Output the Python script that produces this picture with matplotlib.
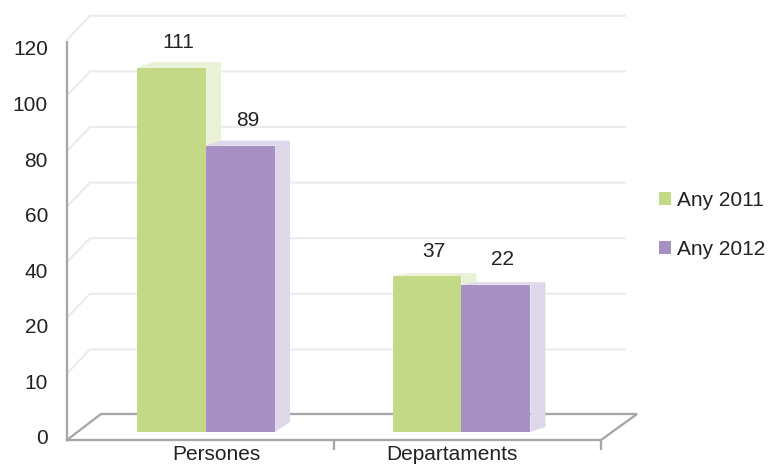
import numpy as np
import matplotlib
matplotlib.use("Agg")
import matplotlib.pyplot as plt
import matplotlib.transforms as mtransforms
from matplotlib.patches import Polygon, Patch
from matplotlib.lines import Line2D

# ---------------- data ----------------
categories = ["Persones", "Departaments"]
series_names = ["Any 2011", "Any 2012"]
values_2011 = [111, 36]      # bar heights as read against the y axis
values_2012 = [83, 33]
labels_2011 = ["111", "37"]  # data labels as printed on the chart
labels_2012 = ["89", "22"]
ytick_values = [0, 10, 20, 40, 60, 80, 100, 120]
ytick_labels = ["0", "10", "20", "40", "60", "80", "100", "120"]

# ---------------- style ----------------
W, H, DPI = 768, 467, 100
plt.rcParams["font.family"] = ["Liberation Sans", "DejaVu Sans"]
FS = 15
TXT = "#222222"
GREEN, GREEN_L = "#C3D985", "#E9F2D7"
PURPLE, PURPLE_L = "#A690C4", "#DED7EA"
GRID = "#EBEBEB"
AXC = "#A6A6A6"
LW_AX = 1.65
LW_GRID = 1.5

fig = plt.figure(figsize=(W / DPI, H / DPI), dpi=DPI)
ax = fig.add_axes([67 / W, 27 / H, 534 / W, 398 / H])
pix = mtransforms.Affine2D().scale(1 / DPI) + fig.dpi_scale_trans

# piecewise scale: each listed tick is one equal step
tv = np.array(ytick_values, float)
ext_v = np.concatenate([[tv[0] - (tv[1] - tv[0]) * 10], tv, [tv[-1] + (tv[-1] - tv[-2]) * 10]])
ext_p = np.concatenate([[-10.0], np.arange(len(tv), dtype=float), [len(tv) - 1 + 10.0]])


def fwd(v):
    return np.interp(v, ext_v, ext_p)


def inv(p):
    return np.interp(p, ext_p, ext_v)


ax.set_yscale("function", functions=(fwd, inv))
ax.set_xlim(-0.544, 1.546)
ax.set_ylim(-1.44, 120.3)

w = 0.27
x = np.arange(len(categories))
series = [(values_2011, labels_2011, GREEN, GREEN_L, x - w),
          (values_2012, labels_2012, PURPLE, PURPLE_L, x)]

for k, (vals, labs, c, cl, xl) in enumerate(series):
    ax.bar(xl, vals, width=w, align="edge", color=c, linewidth=0, zorder=3)

# 3D faces of the bars (in pixel space derived from data transform)
DX = 15
for k, (vals, labs, c, cl, xl) in enumerate(series):
    for j in range(len(categories)):
        x0, x1, h = xl[j], xl[j] + w, vals[j]
        BR = ax.transData.transform((x1, 0))
        TL = ax.transData.transform((x0, h))
        TR = ax.transData.transform((x1, h))
        dyb = 10 - (BR[0] - 275) * 0.0195
        dyt = 0.5 * dyb
        side = [BR, TR, (TR[0] + DX, TR[1] + dyt), (BR[0] + DX, BR[1] + dyb)]
        top = [TL, (TL[0] + DX, TL[1] + dyt), (TR[0] + DX, TR[1] + dyt), TR]
        z = 2.5 + 0.1 * k
        ax.add_patch(Polygon(side, closed=True, transform=pix, facecolor=cl,
                             edgecolor="none", zorder=z, clip_on=False))
        ax.add_patch(Polygon(top, closed=True, transform=pix, facecolor=cl,
                             edgecolor="none", zorder=z, clip_on=False))
        ax.annotate(labs[j], ((x0 + x1) / 2, h), xytext=(5, 18),
                    textcoords="offset points", ha="center", va="center",
                    fontsize=FS, color=TXT, zorder=5)

# back wall gridlines with left-wall diagonal
L = ax.transAxes.transform((0, 0))[0]
R = ax.transAxes.transform((1, 0))[0]
B = ax.transAxes.transform((0, 0))[1]
for v in ytick_values[1:]:
    yb = ax.transData.transform((0, v))[1] + 27
    ax.add_line(Line2D([L, L + 23, R + 25], [yb - 24, yb, yb], transform=pix,
                       color=GRID, lw=LW_GRID, zorder=1, clip_on=False,
                       solid_capstyle="butt"))

# floor
ax.add_line(Line2D([L, L + 34, R + 36, R], [B, B + 26, B + 26, B], transform=pix,
                   color=AXC, lw=LW_AX, zorder=1.5, clip_on=False,
                   solid_joinstyle="miter"))

# spines
for s in ["top", "right"]:
    ax.spines[s].set_visible(False)
for s in ["left", "bottom"]:
    ax.spines[s].set_color(AXC)
    ax.spines[s].set_linewidth(LW_AX)
    ax.spines[s].set_zorder(1.6)
ax.patch.set_visible(False)

# ticks
ax.set_yticks(ytick_values, ytick_labels)
ax.yaxis.set_minor_locator(matplotlib.ticker.NullLocator())
ax.tick_params(axis="y", which="both", length=0, pad=13.7, labelsize=FS, labelcolor=TXT)
ax.set_xticks(x, categories)
ax.set_xticks([0.5, 1.546], minor=True)
ax.tick_params(axis="x", which="major", length=0, pad=3.5, labelsize=FS, labelcolor=TXT)
ax.tick_params(axis="x", which="minor", length=7.2, width=LW_AX, color=AXC, direction="out")

for lab in ax.get_yticklabels():
    lab.set_transform(lab.get_transform() +
                      mtransforms.ScaledTranslation(0, -5 / DPI, fig.dpi_scale_trans))
for lab, dx in zip(ax.get_xticklabels(), [10, -10]):
    lab.set_transform(lab.get_transform() +
                      mtransforms.ScaledTranslation(dx / DPI, 0, fig.dpi_scale_trans))

# legend
handles = [Patch(facecolor=GREEN, edgecolor="none"), Patch(facecolor=PURPLE, edgecolor="none")]
fig.legend(handles, series_names, loc="center left", bbox_to_anchor=(659 / W, (H - 225) / H),
           frameon=False, fontsize=FS, labelcolor=TXT, borderpad=0, borderaxespad=0,
           handlelength=0.56, handleheight=0.56, handletextpad=0.3, labelspacing=1.45)

fig.savefig("out.png", dpi=DPI)
